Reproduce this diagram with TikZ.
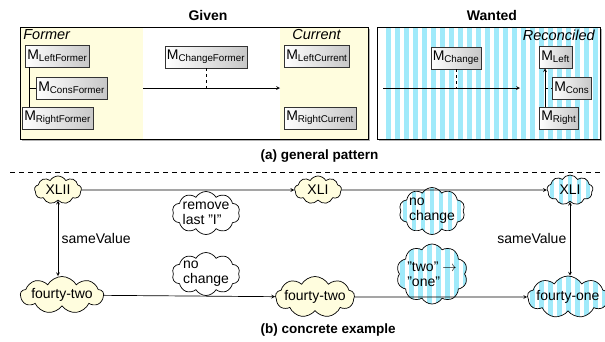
\documentclass[tikz,border=0pt]{standalone}
\usepackage{fontspec}
\setmainfont{Liberation Sans}
\usetikzlibrary{shapes.symbols,shadows,positioning}
\definecolor{paleyellow}{RGB}{255,253,222}
\definecolor{stripeblue}{RGB}{160,234,250}
\begin{document}
\begin{tikzpicture}[x=1pt, y=-1pt, >=stealth, line width=0.7pt, font=\fontsize{14}{15}\selectfont,
  model/.style={draw=black!80, line width=0.5pt, left color=white, right color=black!22, drop shadow={shadow xshift=1pt, shadow yshift=-1pt, opacity=0.35}, inner xsep=2pt, inner ysep=0pt, minimum height=22pt},
  title/.style={font=\fontsize{14}{15}\selectfont\bfseries},
  caption/.style={font=\fontsize{13.5}{15}\selectfont\bfseries, anchor=west},
  role/.style={font=\fontsize{14.5}{15}\selectfont\itshape, inner sep=1pt},
  stripe/.style={fill=stripeblue},
  striped/.style={fill=white, path picture={\foreach \i in {0,...,14} \fill[stripe] ([xshift=\i*9pt+3pt]path picture bounding box.north west) rectangle ++(4.5pt,-80pt);}},
  value/.style={cloud, cloud puffs=9, cloud puff arc=120, cloud ignores aspect, draw, inner sep=0pt, fill=paleyellow},
  change/.style={cloud, cloud puffs=10, cloud puff arc=120, cloud ignores aspect, draw, fill=white, inner sep=0pt},
  every label/.style={inner sep=0pt, align=left, font=\fontsize{14}{15}\selectfont},
  ]
  \useasboundingbox (0,0) rectangle (605,341);

  \node (giventitle) [title] at (208,15) {Given};
  \node (wantedtitle) [title] at (492,15) {Wanted};

  \fill[black!30] (22,29) rectangle (370,141);
  \fill[white] (20,27) rectangle (368,139);
  \fill[paleyellow] (20,27) rectangle (143,139);
  \fill[paleyellow] (280,27) rectangle (368,139);
  \draw (20,27) rectangle (368,139);

  \fill[black!30] (379,29) rectangle (602,141);
  \fill[white] (377,27) rectangle (600,139);
  \begin{scope}
    \clip (377,27) rectangle (600,139);
    \foreach \x in {386,395,...,600}
      \fill[stripe] (\x,27) rectangle ++(4.5,112);
  \end{scope}
  \draw (377,27) rectangle (600,139);

  \node (formerlabel) [role, anchor=west] at (22,35) {Former};
  \node (currentlabel) [role, anchor=west] at (291,35) {Current};
  \node (reconlabel) [role, anchor=east] at (596,35) {Reconciled};

  \node (leftformer) [model, anchor=west] at (25,56) {M\textsubscript{LeftFormer}};
  \node (consformer) [model, anchor=west] at (36,88) {M\textsubscript{ConsFormer}};
  \node (rightformer) [model, anchor=west] at (22,118) {M\textsubscript{RightFormer}};
  \node (changeformer) [model] at (206,57) {M\textsubscript{ChangeFormer}};
  \node (leftcurrent) [model, anchor=west] at (284,56) {M\textsubscript{LeftCurrent}};
  \node (rightcurrent) [model, anchor=west] at (284,118) {M\textsubscript{RightCurrent}};

  \node (change) [model] at (456,58) {M\textsubscript{Change}};
  \node (left) [model, anchor=west] at (539,57) {M\textsubscript{Left}};
  \node (cons) [model, anchor=west] at (552,88) {M\textsubscript{Cons}};
  \node (right) [model, anchor=west] at (539,118) {M\textsubscript{Right}};

  \coordinate (formerspine) at ([xshift=4pt]leftformer.south west);
  \draw[line width=0.5pt] (formerspine) -- (formerspine |- rightformer.north);
  \draw[line width=0.5pt] (formerspine |- consformer.west) -- (consformer.west);
  \coordinate (formerend) at (143,88);
  \coordinate (currentstart) at (280,88);
  \draw[->] (formerend) -- (currentstart);
  \draw[dashed, line width=0.5pt] (changeformer.south) -- (changeformer.south |- formerend);

  \coordinate (reconspine) at ([xshift=6pt]right.north west);
  \draw[->] (reconspine) -- (reconspine |- left.south);
  \draw[dashed, line width=0.5pt] (reconspine |- cons.west) -- (cons.west);
  \coordinate (changestart) at (383,88);
  \coordinate (changeend) at (520,88);
  \draw[->] (changestart) -- (changeend);
  \draw[dashed, line width=0.5pt] (change.south) -- (change.south |- changestart);

  \node (captiona) [caption] at (257,156) {(a) general pattern};
  \draw[line width=0.5pt, dash pattern=on 5pt off 4pt] (10,172) -- (600,172);

  \node (xlii) [value, minimum width=47pt, minimum height=28pt, label=center:XLII] at (58,190) {};
  \node (xli) [value, minimum width=47pt, minimum height=28pt, label=center:XLI] at (318,190) {};
  \node (xlirec) [value, striped, minimum width=46pt, minimum height=30pt, label=center:XLI] at (570,190) {};
  \node (fourtytwo) [value, minimum width=83pt, minimum height=37pt, label=center:fourty-two] at (62,295) {};
  \node (fourtytwocur) [value, minimum width=79pt, minimum height=41pt, label=center:fourty-two] at (315,297) {};
  \node (fourtyone) [value, striped, minimum width=81pt, minimum height=42pt, label=center:fourty-one] at (568,297) {};

  \node (removelast) [change, minimum width=68pt, minimum height=43pt, label={center:remove\\last "I"}] at (206,213) {};
  \node (nochange) [change, minimum width=68pt, minimum height=43pt, label={center:no\\change}] at (206,274) {};
  \node (nochangerec) [change, striped, minimum width=66pt, minimum height=47pt, label={center:no\\change}] at (432,211) {};
  \node (twoone) [change, striped, minimum width=71pt, minimum height=60pt, label={center:"two" $\to$\\"one"}] at (432,274) {};

  \draw[->] (xlii) -- (xli);
  \draw[->] (xli) -- (xlirec);
  \draw[->] (fourtytwo) -- (fourtytwocur);
  \draw[->] (fourtytwocur) -- (fourtyone);
  \draw[<->] (xlii.south) -- node[right]{sameValue} (xlii.south |- fourtytwo.north);
  \draw[<->] (xlirec.south) -- node[left]{sameValue} (xlirec.south |- fourtyone.north);

  \node (captionb) [caption] at (257,330) {(b) concrete example};
\end{tikzpicture}
\end{document}
